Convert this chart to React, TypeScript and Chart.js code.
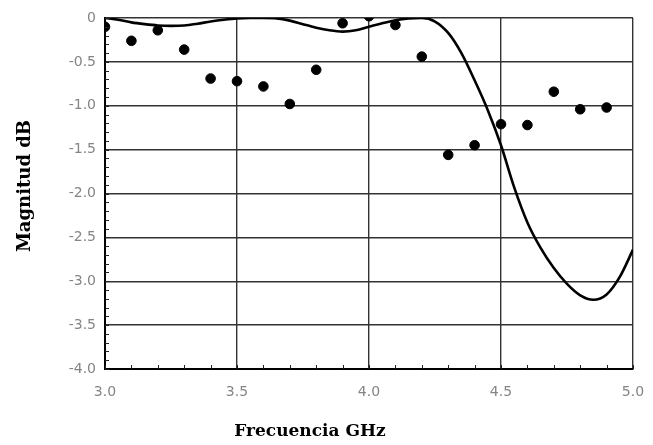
import React, { useEffect, useRef } from "react";
import { Chart, registerables } from "chart.js";

Chart.register(...registerables);

// Measured points (dots)
const measuredFreq = [3.0, 3.1, 3.2, 3.3, 3.4, 3.5, 3.6, 3.7, 3.8, 3.9, 4.0, 4.1, 4.2, 4.3, 4.4, 4.5, 4.6, 4.7, 4.8, 4.9];
const measuredMag = [-0.1, -0.26, -0.14, -0.36, -0.69, -0.72, -0.78, -0.98, -0.59, -0.06, 0.02, -0.08, -0.44, -1.56, -1.45, -1.21, -1.22, -0.84, -1.04, -1.02];

// Simulated response (solid curve)
const simFreq = [3.0, 3.05, 3.1, 3.15, 3.2, 3.25, 3.3, 3.35, 3.4, 3.45, 3.5, 3.55, 3.6, 3.65, 3.7, 3.75, 3.8, 3.85, 3.9, 3.95, 4.0, 4.05, 4.1, 4.15, 4.2, 4.25, 4.3, 4.35, 4.4, 4.45, 4.5, 4.55, 4.6, 4.65, 4.7, 4.75, 4.8, 4.85, 4.9, 4.95, 5.0];
const simMag = [0, -0.02, -0.05, -0.07, -0.085, -0.09, -0.085, -0.065, -0.04, -0.02, -0.005, 0, 0, -0.005, -0.03, -0.07, -0.11, -0.14, -0.155, -0.14, -0.1, -0.06, -0.025, -0.005, 0, -0.04, -0.17, -0.4, -0.71, -1.05, -1.45, -1.93, -2.33, -2.62, -2.85, -3.03, -3.16, -3.21, -3.15, -2.95, -2.64];

const xTitle = "Frecuencia GHz";
const yTitle = "Magnitud dB";

const minorTicks = {
  id: "minorTicks",
  afterDatasetsDraw(chart: any) {
    const { ctx, chartArea, scales } = chart;
    const xs = scales.x;
    const ys = scales.y;
    ctx.save();
    ctx.strokeStyle = "#222";
    ctx.lineWidth = 1;
    for (let i = 0; i <= 20; i++) {
      const v = 3 + i * 0.1;
      const px = Math.round(xs.getPixelForValue(v)) + 0.5;
      ctx.beginPath();
      ctx.moveTo(px, chartArea.bottom);
      ctx.lineTo(px, chartArea.bottom - 4);
      ctx.stroke();
    }
    for (let i = 0; i <= 40; i++) {
      const v = -i * 0.1;
      const py = Math.round(ys.getPixelForValue(v)) + 0.5;
      ctx.beginPath();
      ctx.moveTo(chartArea.left, py);
      ctx.lineTo(chartArea.left + 4, py);
      ctx.stroke();
    }
    ctx.restore();
  },
};

const titles = {
  id: "titles",
  afterDraw(chart: any) {
    const { ctx } = chart;
    ctx.save();
    ctx.fillStyle = "#000";
    ctx.textAlign = "center";
    ctx.textBaseline = "middle";
    ctx.font = "bold 17px 'DejaVu Serif'";
    ctx.fillText(xTitle, 310, 432);
    ctx.translate(25, 186);
    ctx.rotate(-Math.PI / 2);
    ctx.font = "bold 18px 'DejaVu Serif'";
    ctx.fillText(yTitle, 0, 0);
    ctx.restore();
  },
};

export default function App() {
  const ref = useRef<HTMLCanvasElement | null>(null);
  useEffect(() => {
    if (!ref.current) return;
    const chart = new Chart(ref.current, {
      type: "scatter",
      data: {
        datasets: [
          {
            label: "Simulado",
            data: simFreq.map((x, i) => ({ x, y: simMag[i] })),
            showLine: true,
            borderColor: "#000",
            borderWidth: 2.6,
            pointRadius: 0,
            tension: 0.4,
            cubicInterpolationMode: "monotone",
          } as any,
          {
            label: "Medido",
            data: measuredFreq.map((x, i) => ({ x, y: measuredMag[i] })),
            backgroundColor: "#000",
            borderColor: "#000",
            pointRadius: 4.8,
            showLine: false,
          },
        ],
      },
      options: {
        animation: false,
        responsive: false,
        maintainAspectRatio: false,
        layout: { padding: { top: 18, right: 20, left: 0, bottom: 0 } },
        plugins: { legend: { display: false }, tooltip: { enabled: false } },
        scales: {
          x: {
            type: "linear",
            min: 3,
            max: 5,
            afterFit: (s: any) => { s.height = 76; },
            ticks: {
              stepSize: 0.5,
              padding: 0,
              color: "#858585",
              font: { family: "'DejaVu Sans'", size: 14 },
              callback: (v: any) => Number(v).toFixed(1),
            },
            grid: { color: "#333", lineWidth: 1.4, drawTicks: true, tickLength: 15, tickColor: "rgba(0,0,0,0)" },
            border: { color: "#000", width: 2 },
          },
          y: {
            type: "linear",
            min: -4,
            max: 0,
            afterFit: (s: any) => { s.width = 105; },
            ticks: {
              stepSize: 0.5,
              padding: 0,
              color: "#858585",
              font: { family: "'DejaVu Sans'", size: 14 },
              callback: (v: any) => (Number(v) === 0 ? "0" : Number(v).toFixed(1)),
            },
            grid: { color: "#333", lineWidth: 1.4, drawTicks: true, tickLength: 9, tickColor: "rgba(0,0,0,0)" },
            border: { color: "#000", width: 2 },
          },
        },
      },
      plugins: [minorTicks, titles],
    });
    return () => chart.destroy();
  }, []);
  return (
    <div style={{ position: "fixed", left: 0, top: 0, width: 653, height: 445, background: "#fff" }}>
      <canvas ref={ref} width={653} height={445} style={{ width: 653, height: 445 }} />
    </div>
  );
}
